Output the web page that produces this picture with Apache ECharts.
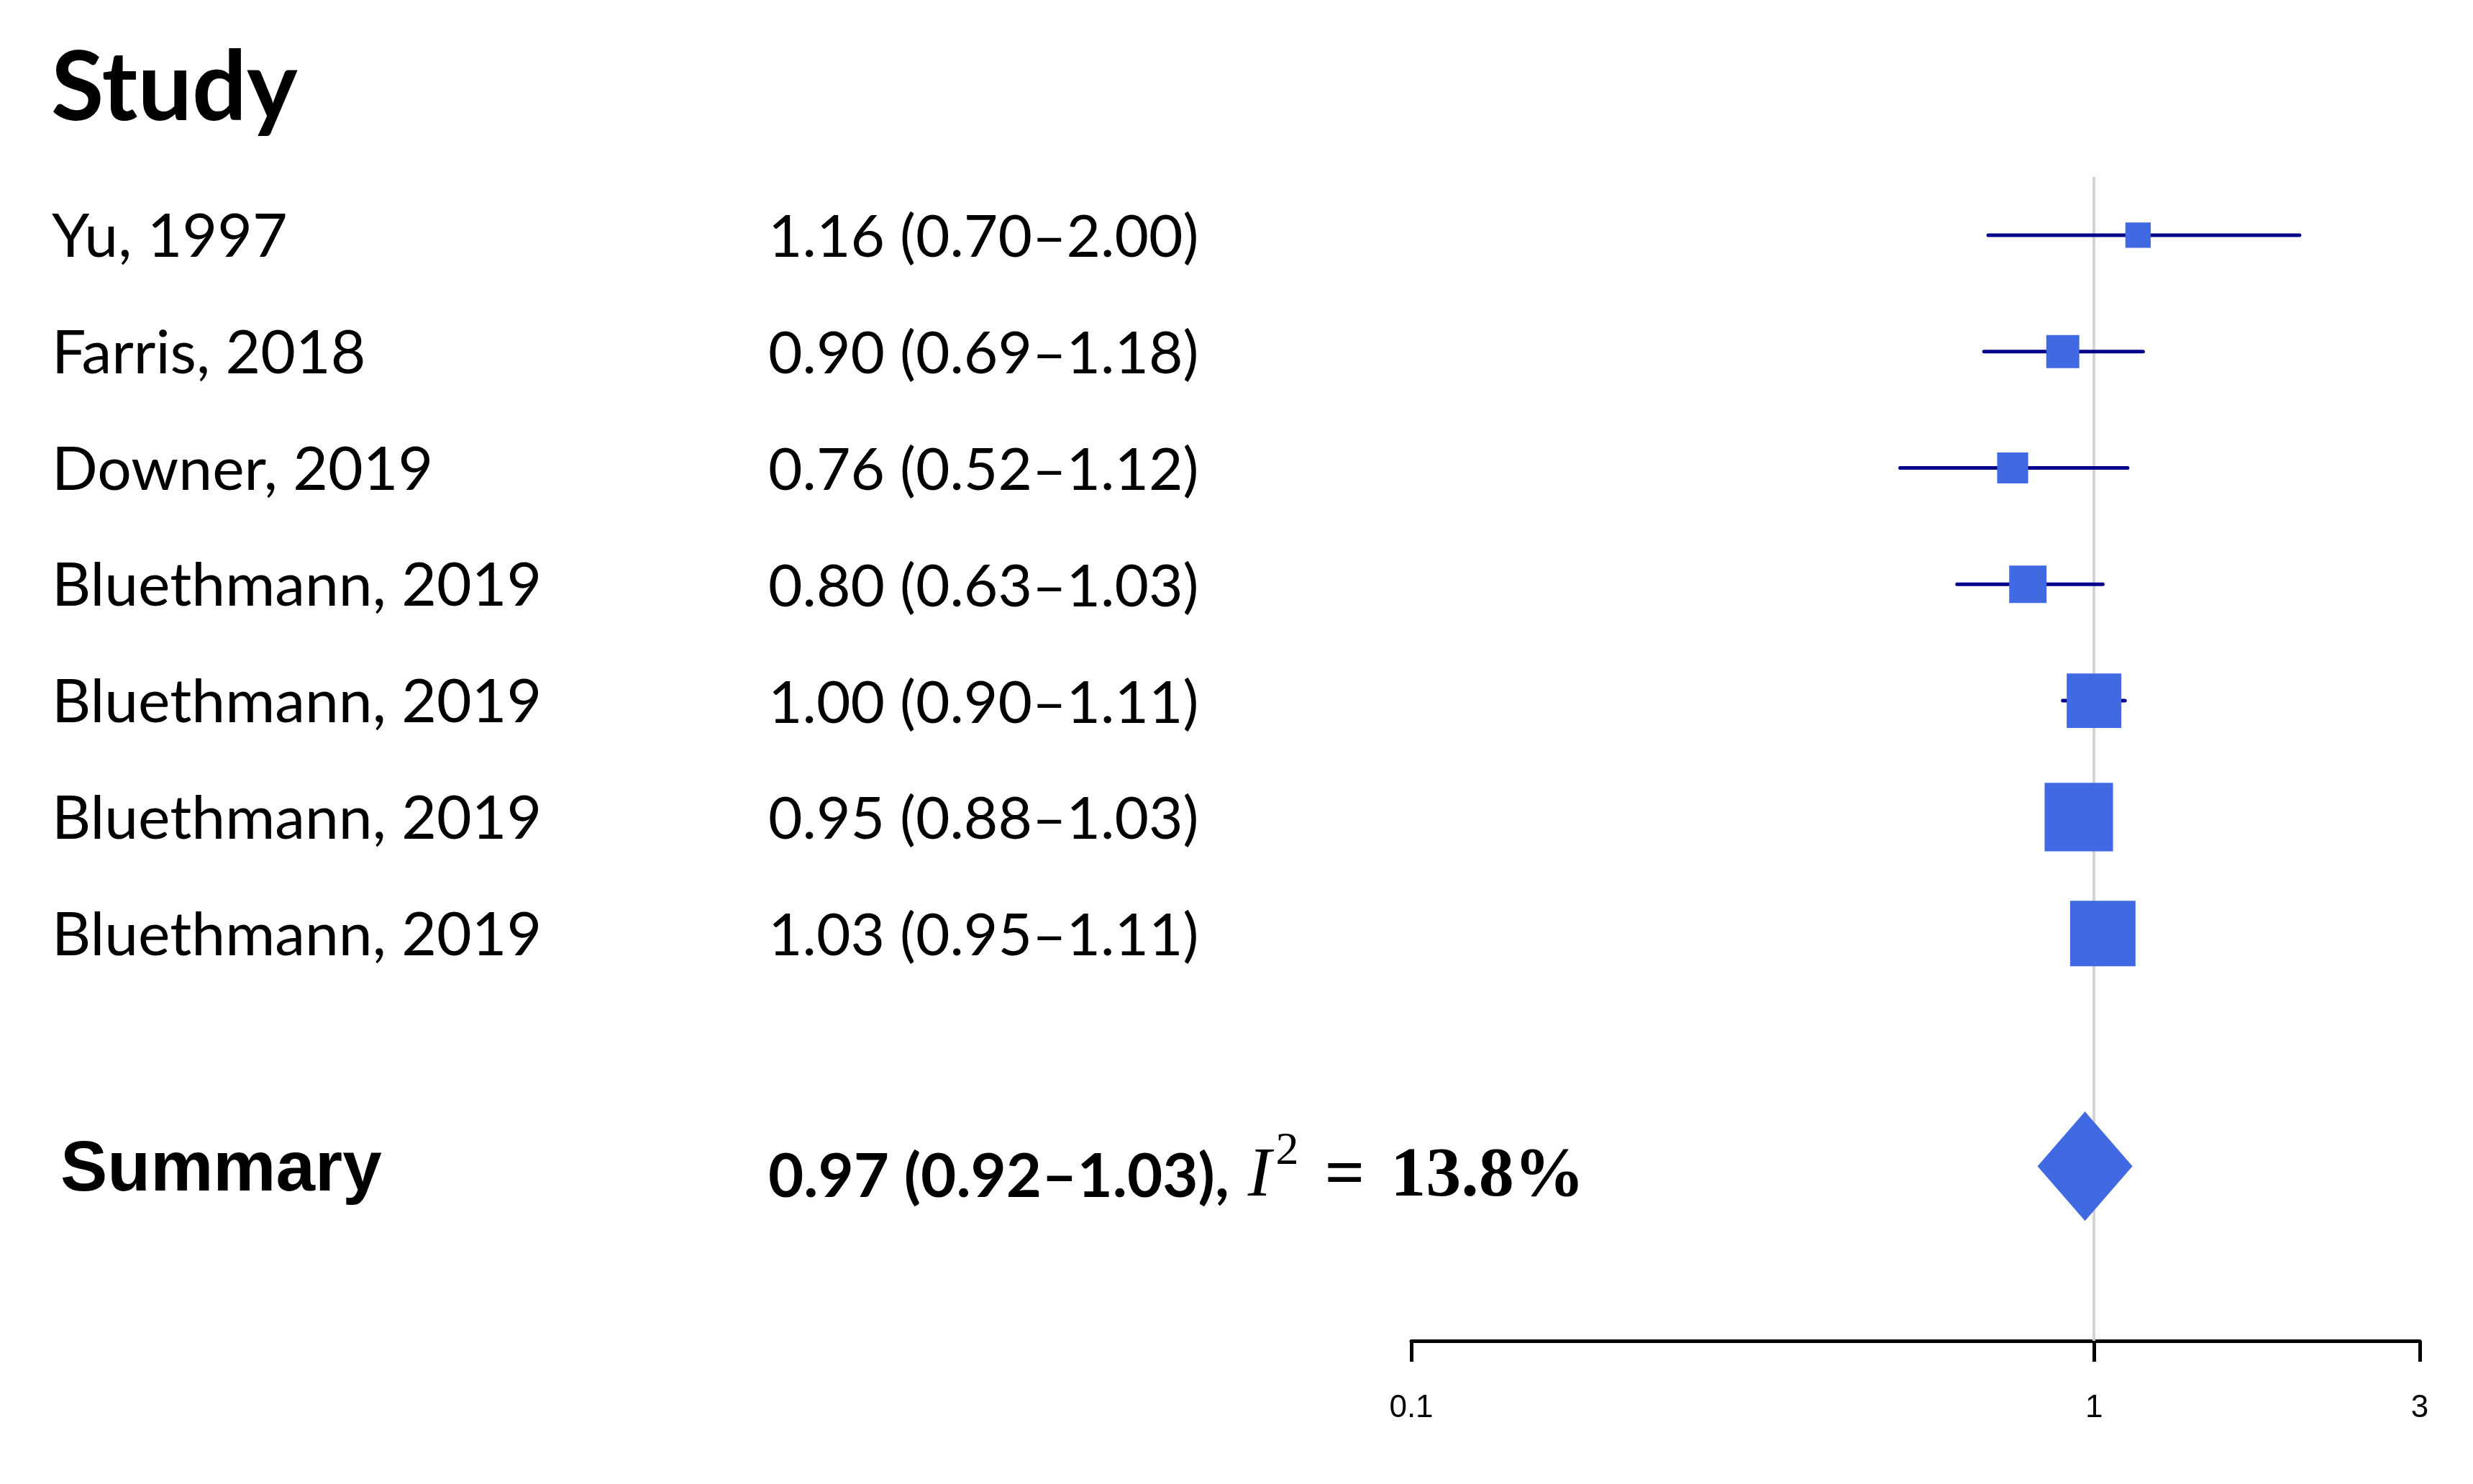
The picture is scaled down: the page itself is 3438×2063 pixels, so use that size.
<!DOCTYPE html>
<html>
<head>
<meta charset="utf-8">
<title>Forest plot</title>
<script src="https://cdn.jsdelivr.net/npm/echarts@6/dist/echarts.min.js"></script>
<style>
    html, body { margin: 0; padding: 0; background: #ffffff; }
    #chart { width: 3438px; height: 2063px; }
</style>
</head>
<body>
<div id="chart"></div>
<script>
// study rows
const studies = ['Yu, 1997', 'Farris, 2018', 'Downer, 2019', 'Bluethmann, 2019',
    'Bluethmann, 2019', 'Bluethmann, 2019', 'Bluethmann, 2019'];
const oddsRatio = [1.16, 0.90, 0.76, 0.80, 1.00, 0.95, 1.03];
const ciLower = [0.70, 0.69, 0.52, 0.63, 0.90, 0.88, 0.95];
const ciUpper = [2.00, 1.18, 1.12, 1.03, 1.11, 1.03, 1.11];
// relative study weights (%)
const weights = [4.0, 6.8, 6.0, 8.7, 18.6, 29.2, 26.7];

// pooled estimate
const summaryLabel = 'Summary';
const summaryOR = 0.97;
const summaryLower = 0.92;
const summaryUpper = 1.03;
const heterogeneity = '13.8%';

const xTicks = [0.1, 1, 3];

// rows 0..6 studies, 7 blank, 8 summary, 9 blank
const SUMMARY_ROW = 8;
const rowCount = 10;
const rows = [];
for (let i = 0; i < rowCount; i++) rows.push(String(i));

function fmt(v) { return v.toFixed(2); }

const ciText = studies.map((s, i) => fmt(oddsRatio[i]) + ' (' + fmt(ciLower[i]) + '\u2013' + fmt(ciUpper[i]) + ')');

const ciData = studies.map((s, i) => [ciLower[i], ciUpper[i], i]);
const boxData = studies.map((s, i) => [oddsRatio[i], i, weights[i]]);

const chart = echarts.init(document.getElementById('chart'), null, { renderer: 'canvas' });

const option = {
    animation: false,
    backgroundColor: '#ffffff',
    title: {
        text: 'Study',
        left: 66,
        top: 52,
        textStyle: {
            fontFamily: 'Lato',
            fontWeight: 'bold',
            fontSize: 134,
            color: '#000'
        }
    },
    grid: {
        left: 1962,
        right: 74,
        top: 246,
        bottom: 199,
        outerBoundsMode: 'none'
    },
    xAxis: {
        type: 'log',
        logBase: 10,
        min: 0.1,
        max: 3,
        splitLine: { show: false },
        axisLine: { show: true, onZero: false, lineStyle: { color: '#000', width: 5 } },
        axisTick: {
            show: true,
            customValues: xTicks,
            length: 29,
            lineStyle: { color: '#000', width: 5 }
        },
        axisLabel: {
            customValues: xTicks,
            formatter: v => String(v),
            margin: 72,
            fontSize: 44,
            fontFamily: 'Liberation Sans',
            color: '#000'
        }
    },
    yAxis: [
        {
            type: 'category',
            data: rows,
            inverse: true,
            position: 'left',
            axisLine: { show: false },
            axisTick: { show: false },
            splitLine: { show: false },
            axisLabel: {
                interval: 0,
                align: 'left',
                margin: 1890,
                formatter: (v, i) => {
                    if (i < studies.length) return '{name|' + studies[i] + '}';
                    if (i === SUMMARY_ROW) return '{sum|' + summaryLabel + '}';
                    return '';
                },
                rich: {
                    name: { fontFamily: 'Lato', fontSize: 84, color: '#000', padding: [6, 0, 0, 0] },
                    sum: { fontFamily: 'Liberation Sans', fontWeight: 'bold', fontSize: 98, color: '#000', padding: [14, 0, 0, 12] }
                }
            }
        },
        {
            type: 'category',
            data: rows,
            inverse: true,
            position: 'left',
            axisLine: { show: false },
            axisTick: { show: false },
            splitLine: { show: false },
            axisLabel: {
                interval: 0,
                align: 'left',
                margin: 894,
                formatter: (v, i) => {
                    if (i < studies.length) return '{val|' + ciText[i] + '}';
                    if (i === SUMMARY_ROW) {
                        return '{bold|' + fmt(summaryOR) + ' (' + fmt(summaryLower) + '\u2013' + fmt(summaryUpper) + '),}'
                            + '{mi|I}{sup|2}{math|=}{math|' + heterogeneity + '}';
                    }
                    return '';
                },
                rich: {
                    val: { fontFamily: 'Lato', fontSize: 82, color: '#000', padding: [8, 0, 0, 0] },
                    bold: { fontFamily: 'Lato', fontWeight: 'bold', fontSize: 85, color: '#000', padding: [30, 0, 0, 0] },
                    mi: { fontFamily: 'Liberation Serif', fontStyle: 'italic', fontSize: 98, color: '#000', padding: [30, 0, 0, 26] },
                    sup: { fontFamily: 'Liberation Serif', fontSize: 64, color: '#000', padding: [0, 0, 40, 6] },
                    math: { fontFamily: 'Liberation Serif', fontWeight: 'bold', fontSize: 98, color: '#000', padding: [30, 0, 0, 36] }
                }
            }
        }
    ],
    series: [
        {
            // line of no effect
            type: 'scatter',
            data: [],
            z: 1,
            silent: true,
            markLine: {
                silent: true,
                z: 1,
                symbol: 'none',
                label: { show: false },
                lineStyle: { color: '#d3d3d3', width: 4, type: 'solid' },
                data: [{ xAxis: 1 }]
            }
        },
        {
            type: 'custom',
            z: 2,
            silent: true,
            data: ciData,
            encode: { x: [0, 1], y: 2 },
            renderItem: function (params, api) {
                const row = api.value(2);
                const p1 = api.coord([api.value(0), row]);
                const p2 = api.coord([api.value(1), row]);
                return {
                    type: 'line',
                    shape: { x1: p1[0], y1: p1[1], x2: p2[0], y2: p2[1] },
                    style: { stroke: '#00008b', lineWidth: 5, lineCap: 'round' }
                };
            }
        },
        {
            type: 'scatter',
            z: 3,
            silent: true,
            symbol: 'rect',
            symbolSize: d => 17.6 * Math.sqrt(d[2]),
            itemStyle: { color: '#4169e1', opacity: 1 },
            data: boxData
        },
        {
            type: 'scatter',
            z: 3,
            silent: true,
            symbol: 'diamond',
            symbolSize: [132, 152],
            itemStyle: { color: '#4169e1', opacity: 1 },
            data: [[summaryOR, SUMMARY_ROW]]
        }
    ]
};

chart.setOption(option);
</script>
</body>
</html>
